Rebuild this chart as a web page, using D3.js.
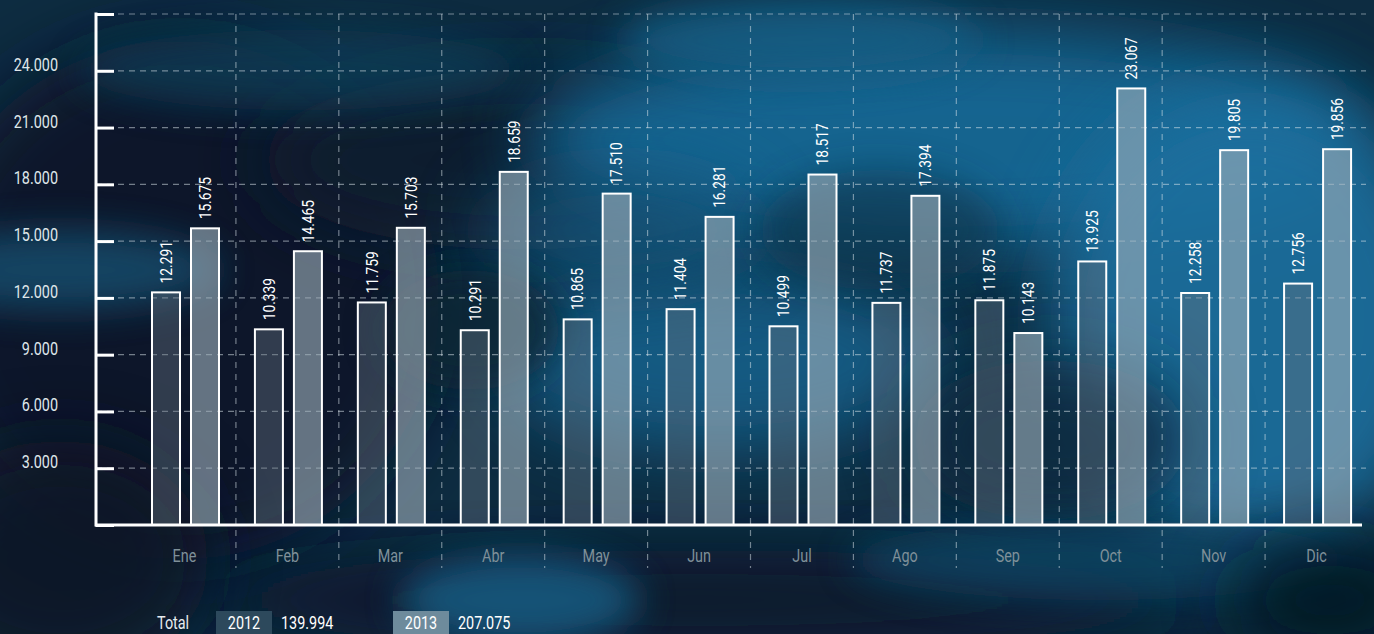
<!DOCTYPE html>
<html><head><meta charset="utf-8">
<script src="https://cdn.jsdelivr.net/npm/d3@7"></script>
<style>html,body{margin:0;padding:0;background:#0c2a3e;overflow:hidden}svg{display:block}</style>
</head><body>
<script>
const months = ["Ene","Feb","Mar","Abr","May","Jun","Jul","Ago","Sep","Oct","Nov","Dic"];
const series = ["2012","2013"];
const values2012 = [12291,10339,11759,10291,10865,11404,10499,11737,11875,13925,12258,12756];
const values2013 = [15675,14465,15703,18659,17510,16281,18517,17394,10143,23067,19805,19856];
const yTicks = [0,3000,6000,9000,12000,15000,18000,21000,24000,27000];
const totalLabel = "Total";
const totals = ["139.994","207.075"];

const W = 1374, H = 634;
const FONT = "Roboto,'Noto Sans',sans-serif";
const SX = 0.8; // condensed look
const fmt = v => d3.format(",")(v).replace(/,/g, ".");

const svg = d3.select("body").append("svg").attr("width", W).attr("height", H);
const defs = svg.append("defs");
defs.append("filter").attr("id","blur").attr("x","-50%").attr("y","-50%").attr("width","200%").attr("height","200%")
  .append("feGaussianBlur").attr("stdDeviation", 35);
defs.append("filter").attr("id","blur2").attr("x","-50%").attr("y","-50%").attr("width","200%").attr("height","200%")
  .append("feGaussianBlur").attr("stdDeviation", 18);

// background
const bg = svg.append("g");
bg.append("rect").attr("width",W).attr("height",H).attr("fill","#0d2c41");
const blobs = [
  [180,300,260,260,"#07192a",1,"blur"],
  [520,160,260,90,"#081d2d",1,"blur"],
  [950,140,420,110,"#186894",0.95,"blur"],
  [1250,320,200,230,"#1a6f9f",0.9,"blur"],
  [720,360,220,90,"#17628d",0.85,"blur"],
  [620,230,140,60,"#145b83",0.7,"blur"],
  [60,270,160,40,"#12506f",0.8,"blur2"],
  [300,70,220,40,"#103f5a",0.7,"blur2"],
  [800,40,180,40,"#165e85",0.8,"blur2"],
  [1050,440,140,80,"#0b2b40",0.9,"blur"],
  [700,600,500,50,"#07192a",0.9,"blur"],
  [520,600,120,45,"#15587e",0.9,"blur2"],
  [1100,560,250,40,"#0f4464",0.8,"blur2"],
  [1330,600,100,60,"#061522",0.9,"blur"],
  [60,560,150,120,"#071826",0.9,"blur"],
  [470,330,90,60,"#0a2536",0.8,"blur2"],
  [880,230,120,60,"#0d3147",0.6,"blur2"]
];
blobs.forEach(b => bg.append("ellipse").attr("cx",b[0]).attr("cy",b[1]).attr("rx",b[2]).attr("ry",b[3])
  .attr("fill",b[4]).attr("opacity",b[5]).attr("filter",`url(#${b[6]})`));

// scales
const y = d3.scaleLinear().domain([0,27000]).range([525,14]);
const x = d3.scaleBand().domain(months).range([133,1368]).padding(0);
const xi = d3.scaleBand().domain(series).range([19,86]).paddingInner(0.282).paddingOuter(0);

const g = svg.append("g");

// horizontal grid
g.append("g").selectAll("line").data(yTicks.filter(d=>d>0)).join("line")
  .attr("x1",96).attr("x2",1366).attr("y1",d=>y(d)).attr("y2",d=>y(d))
  .attr("stroke","rgba(220,230,235,0.5)").attr("stroke-width",1.2).attr("stroke-dasharray","6,5");

// vertical dashed band separators
g.append("g").selectAll("line").data(months.slice(1)).join("line")
  .attr("x1",d=>x(d)).attr("x2",d=>x(d)).attr("y1",14).attr("y2",568)
  .attr("stroke","rgba(220,230,235,0.5)").attr("stroke-width",1.2).attr("stroke-dasharray","6,6");

// bars
const data = months.map((m,i)=>({m, vals:[{s:"2012",v:values2012[i]},{s:"2013",v:values2013[i]}]}));
const fills = {"2012":"rgba(100,115,128,0.42)","2013":"rgba(155,172,184,0.62)"};
const grp = g.append("g").selectAll("g").data(data).join("g").attr("transform",d=>`translate(${x(d.m)},0)`);
grp.selectAll("rect").data(d=>d.vals).join("rect")
  .attr("x",d=>xi(d.s)).attr("width",xi.bandwidth())
  .attr("y",d=>y(d.v)).attr("height",d=>y(0)-y(d.v))
  .attr("fill",d=>fills[d.s]).attr("stroke","#fff").attr("stroke-width",2);
grp.selectAll("text").data(d=>d.vals).join("text")
  .attr("transform",d=>`translate(${xi(d.s)+xi.bandwidth()/2},${y(d.v)-9}) rotate(-90) scale(0.86,1)`)
  .attr("dy","0.36em").attr("text-anchor","start")
  .attr("fill","#fff").attr("font-family",FONT).attr("font-size",16)
  .text(d=>fmt(d.v));

// y axis
const yAxis = d3.axisRight(y).tickValues(yTicks).tickSize(18).tickFormat("");
const ya = g.append("g").attr("transform","translate(96,0)").call(yAxis);
ya.select(".domain").remove();
ya.selectAll(".tick line").attr("stroke","#fff").attr("stroke-width",3);
g.append("line").attr("x1",96).attr("x2",96).attr("y1",12.5).attr("y2",526.5).attr("stroke","#fff").attr("stroke-width",3);
g.append("g").selectAll("text").data(yTicks.filter(d=>d>0 && d<27000)).join("text")
  .attr("transform",d=>`translate(58,${y(d)}) scale(${SX},1)`).attr("text-anchor","end")
  .attr("fill","#dfe6ea").attr("font-family",FONT).attr("font-size",18)
  .text(d=>fmt(d));

// x axis
const xAxis = d3.axisBottom(x).tickSize(0).tickPadding(0);
const xa = g.append("g").attr("transform","translate(0,525)").call(xAxis);
xa.select(".domain").remove();
xa.selectAll(".tick text").attr("y",0).attr("dy",0).attr("transform",`translate(0,37) scale(${SX},1)`)
  .attr("fill","#7f9099").attr("font-family",FONT).attr("font-size",18);
g.append("line").attr("x1",95).attr("x2",1362).attr("y1",525).attr("y2",525).attr("stroke","#fff").attr("stroke-width",3);

// legend / totals
const lg = svg.append("g").attr("font-family",FONT).attr("font-size",18);
const condText = (px, py, txt, fill, anchor) => lg.append("text")
  .attr("transform",`translate(${px},${py}) scale(${SX},1)`).attr("text-anchor",anchor||"start")
  .attr("fill",fill).text(txt);
condText(157,629,totalLabel,"#e6ecef");
const legendBoxes = [{s:"2012",x:216,fill:"#2d495c",t:totals[0]},{s:"2013",x:393,fill:"#6e8b9c",t:totals[1]}];
legendBoxes.forEach(b=>{
  lg.append("rect").attr("x",b.x).attr("y",611).attr("width",56).attr("height",24).attr("fill",b.fill);
  condText(b.x+28,629,b.s,"#fff","middle");
  condText(b.x+65,629,b.t,"#fff");
});
</script>
</body></html>
